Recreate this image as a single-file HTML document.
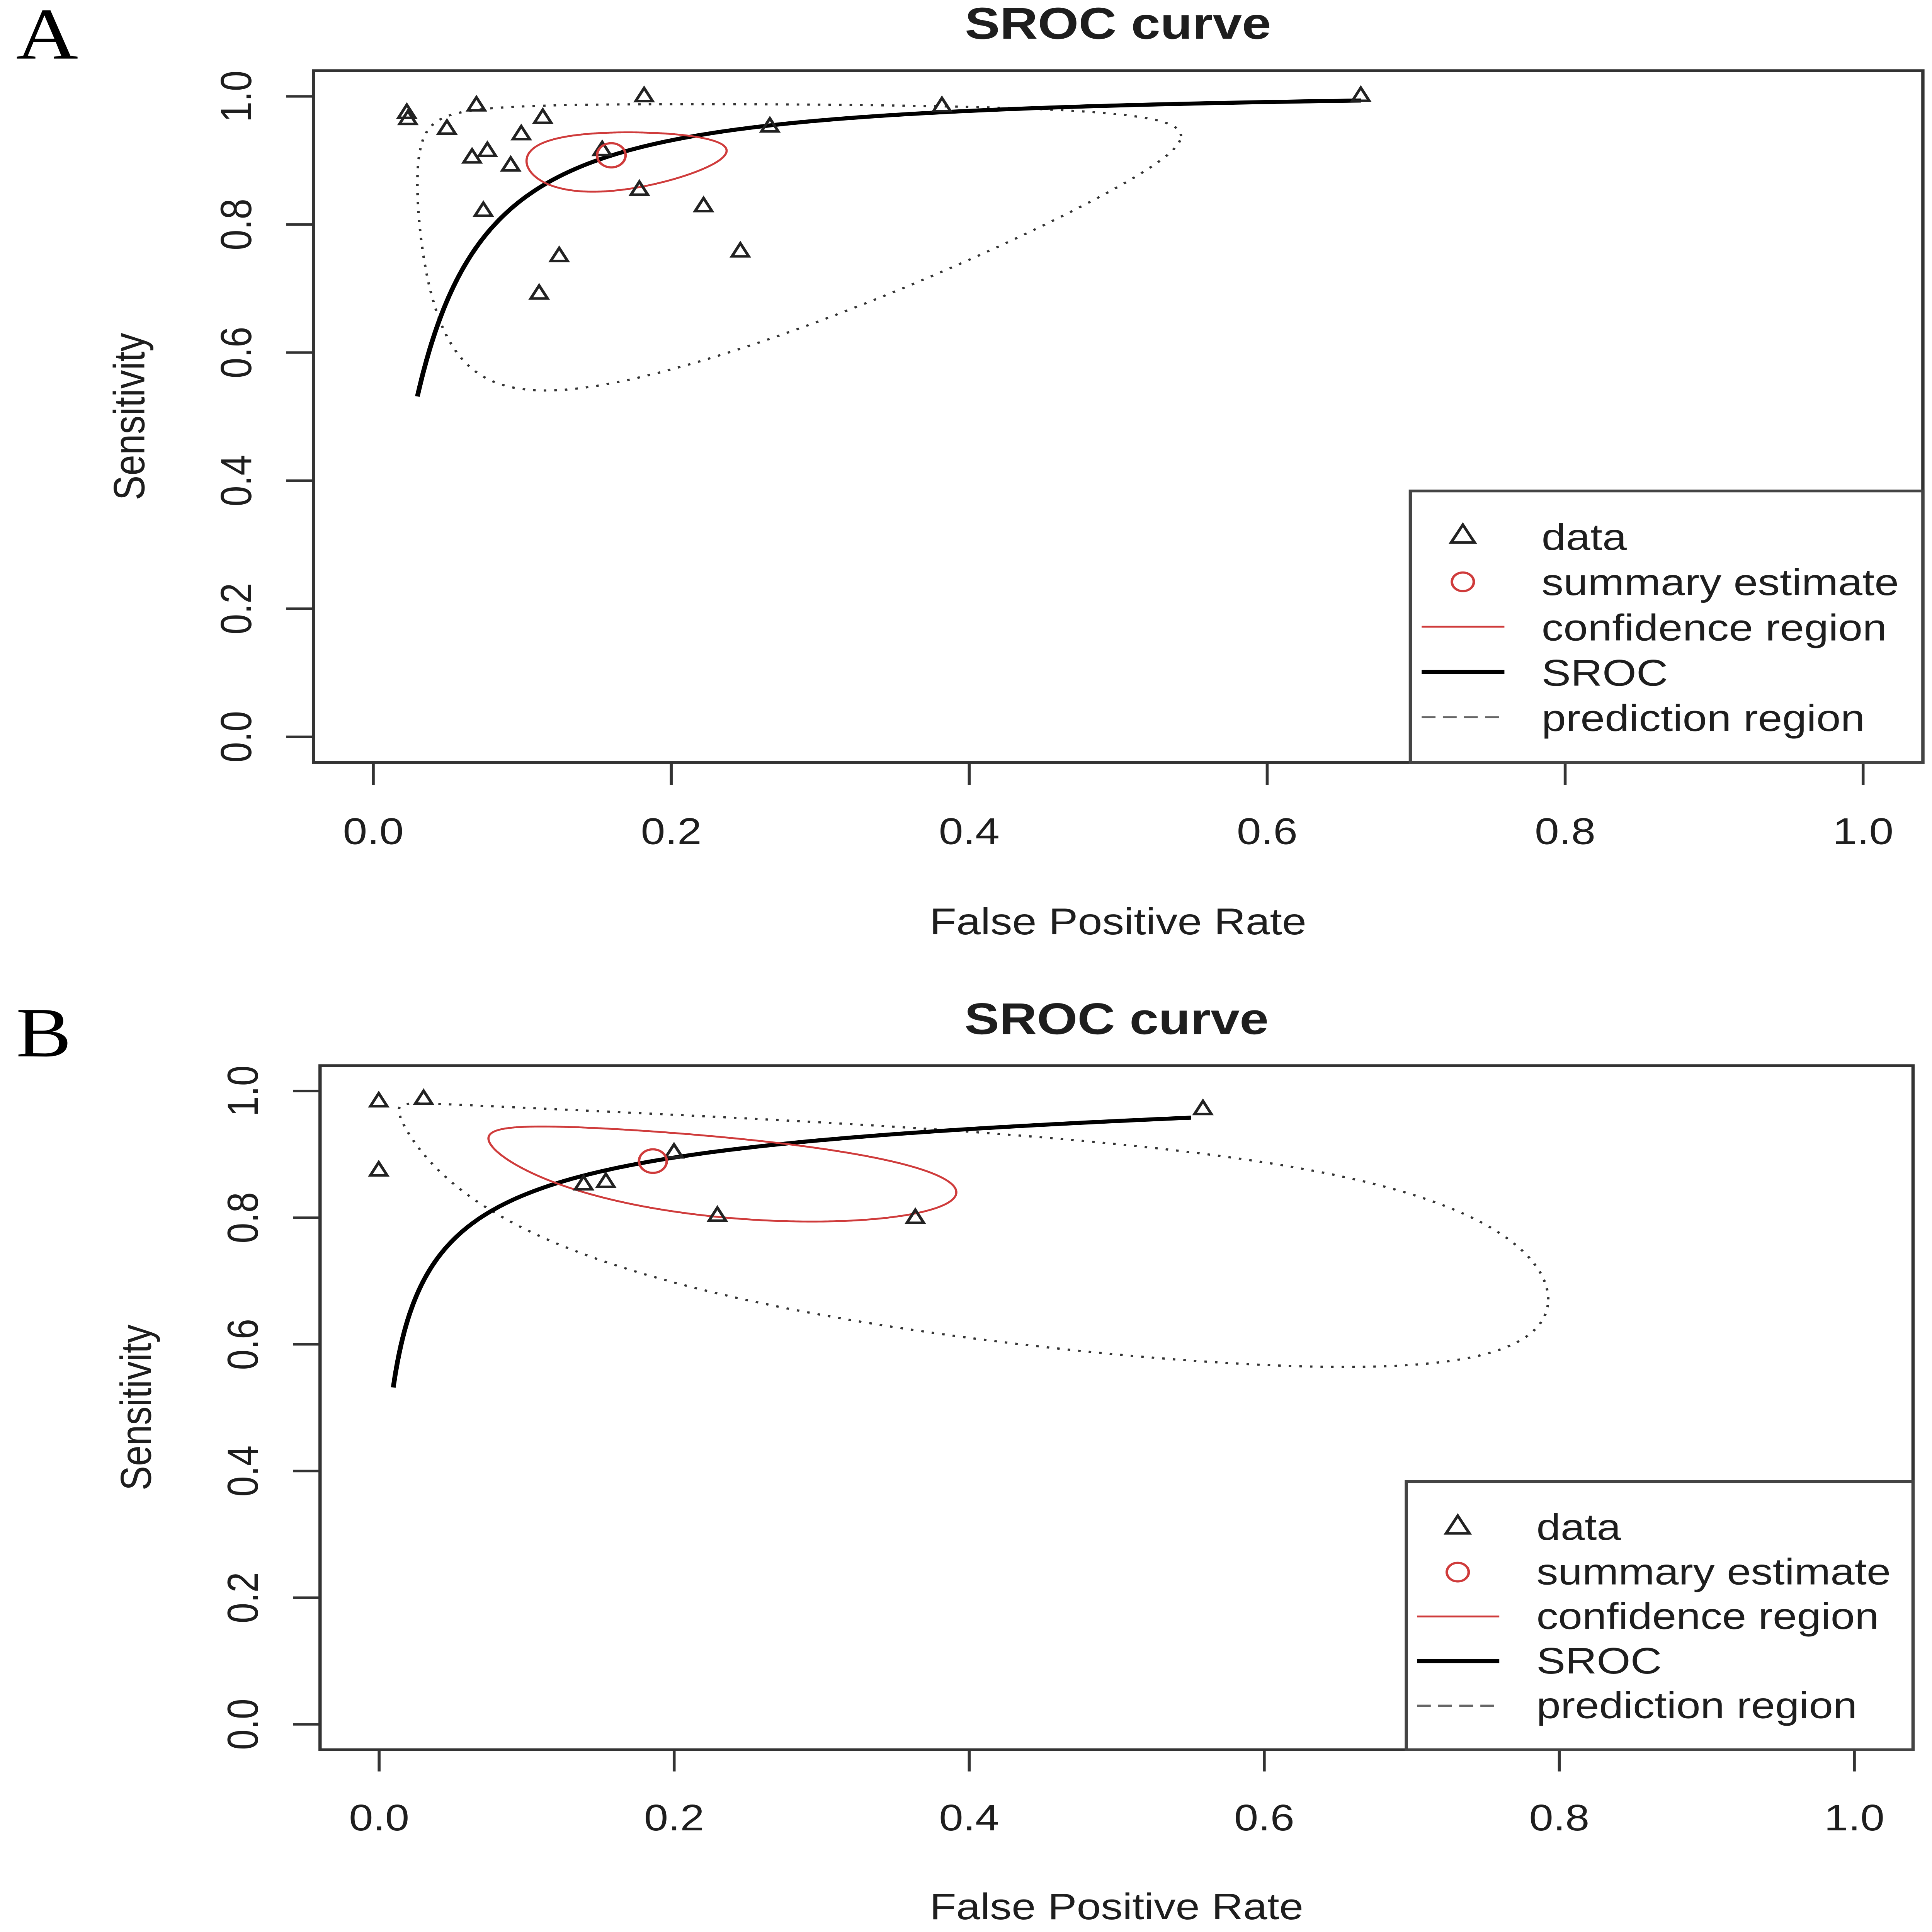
<!DOCTYPE html>
<html>
<head>
<meta charset="utf-8">
<style>
  html,body{margin:0;padding:0;background:#fff;width:100%;height:100%;overflow:hidden;}
  svg{display:block;position:fixed;left:0;top:0;width:100vw;height:100vh;}
  text{font-family:"Liberation Sans",Arial,sans-serif;fill:#1e1e1e;}
  .serif{font-family:"Liberation Serif","Times New Roman",serif;fill:#000;}
</style>
</head>
<body>
<svg xmlns="http://www.w3.org/2000/svg" viewBox="0 0 5300 6233" preserveAspectRatio="none" overflow="hidden">
<defs>
  <path id="tri" d="M0-28L23 14H-23Z" fill="none" stroke="#222" stroke-width="8" stroke-linejoin="miter"/>
  <path id="ltri" d="M0-38L32 19H-32Z" fill="none" stroke="#222" stroke-width="8" stroke-linejoin="miter"/>
</defs>
<rect x="0" y="0" width="5300" height="6233" fill="#fff"/>

<!-- ===================== PANEL A ===================== -->
<text class="serif" x="44" y="189" font-size="236">A</text>
<text x="3067" y="125" font-size="144" font-weight="bold" text-anchor="middle">SROC curve</text>

<path id="aP" d="" fill="none" stroke="#333" stroke-width="7" stroke-dasharray="7 22"/>
<path id="aS" d="" fill="none" stroke="#000" stroke-width="13" stroke-linejoin="round"/>
<path id="aC" d="" fill="none" stroke="#cf3b3b" stroke-width="6"/>

<g>
<use href="#tri" x="1116" y="366"/>
<use href="#tri" x="1119" y="386"/>
<use href="#tri" x="1307" y="342"/>
<use href="#tri" x="1489" y="382"/>
<use href="#tri" x="1226" y="417"/>
<use href="#tri" x="1430" y="435"/>
<use href="#tri" x="1295" y="510"/>
<use href="#tri" x="1337" y="489"/>
<use href="#tri" x="1401" y="536"/>
<use href="#tri" x="1326" y="682"/>
<use href="#tri" x="1534" y="828"/>
<use href="#tri" x="1479" y="949"/>
<use href="#tri" x="1652" y="486"/>
<use href="#tri" x="1767" y="312"/>
<use href="#tri" x="1754" y="614"/>
<use href="#tri" x="1930" y="667"/>
<use href="#tri" x="2031" y="813"/>
<use href="#tri" x="2112" y="410"/>
<use href="#tri" x="2584" y="344"/>
<use href="#tri" x="3733" y="311"/>
</g>
<circle cx="1677" cy="501" r="39" fill="none" stroke="#cf3b3b" stroke-width="7"/>

<rect x="860" y="228" width="4415" height="2232" fill="none" stroke="#333" stroke-width="9"/>
<g stroke="#333" stroke-width="8">
<line x1="1024" y1="2460" x2="1024" y2="2532"/>
<line x1="1841.4" y1="2460" x2="1841.4" y2="2532"/>
<line x1="2658.8" y1="2460" x2="2658.8" y2="2532"/>
<line x1="3476.2" y1="2460" x2="3476.2" y2="2532"/>
<line x1="4293.6" y1="2460" x2="4293.6" y2="2532"/>
<line x1="5111" y1="2460" x2="5111" y2="2532"/>
<line x1="785" y1="2377" x2="860" y2="2377"/>
<line x1="785" y1="1963.8" x2="860" y2="1963.8"/>
<line x1="785" y1="1550.6" x2="860" y2="1550.6"/>
<line x1="785" y1="1137.4" x2="860" y2="1137.4"/>
<line x1="785" y1="724.2" x2="860" y2="724.2"/>
<line x1="785" y1="311" x2="860" y2="311"/>
</g>
<g font-size="120" text-anchor="middle">
<text x="1024" y="2723">0.0</text>
<text x="1841.4" y="2723">0.2</text>
<text x="2658.8" y="2723">0.4</text>
<text x="3476.2" y="2723">0.6</text>
<text x="4293.6" y="2723">0.8</text>
<text x="5111" y="2723">1.0</text>
<text transform="translate(689,2377) rotate(-90)">0.0</text>
<text transform="translate(689,1963.8) rotate(-90)">0.2</text>
<text transform="translate(689,1550.6) rotate(-90)">0.4</text>
<text transform="translate(689,1137.4) rotate(-90)">0.6</text>
<text transform="translate(689,724.2) rotate(-90)">0.8</text>
<text transform="translate(689,311) rotate(-90)">1.0</text>
<text x="3067" y="3014">False Positive Rate</text>
<text transform="translate(396,1344) rotate(-90)">Sensitivity</text>
</g>

<rect x="3869" y="1584" width="1406" height="876" fill="#fff" stroke="#444" stroke-width="9"/>
<use href="#ltri" x="4013" y="1731"/>
<circle cx="4013" cy="1877" r="30" fill="none" stroke="#cf3b3b" stroke-width="7"/>
<line x1="3900" y1="2022" x2="4127" y2="2022" stroke="#cf3b3b" stroke-width="6"/>
<line x1="3900" y1="2168" x2="4127" y2="2168" stroke="#000" stroke-width="13"/>
<line x1="3900" y1="2314" x2="4122" y2="2314" stroke="#666" stroke-width="7" stroke-dasharray="38 20"/>
<g font-size="120">
<text x="4229" y="1774">data</text>
<text x="4229" y="1920">summary estimate</text>
<text x="4229" y="2066">confidence region</text>
<text x="4229" y="2212">SROC</text>
<text x="4229" y="2358">prediction region</text>
</g>

<!-- ===================== PANEL B ===================== -->
<text class="serif" x="44" y="3408" font-size="228">B</text>
<text x="3063" y="3336" font-size="143" font-weight="bold" text-anchor="middle">SROC curve</text>

<path id="bP" d="" fill="none" stroke="#333" stroke-width="7" stroke-dasharray="7 22"/>
<path id="bS" d="" fill="none" stroke="#000" stroke-width="13" stroke-linejoin="round"/>
<path id="bC" d="" fill="none" stroke="#cf3b3b" stroke-width="6"/>

<g>
<use href="#tri" x="1039" y="3555"/>
<use href="#tri" x="1162" y="3547"/>
<use href="#tri" x="1039" y="3778"/>
<use href="#tri" x="1601" y="3823"/>
<use href="#tri" x="1662" y="3815"/>
<use href="#tri" x="1849" y="3720"/>
<use href="#tri" x="1968" y="3924"/>
<use href="#tri" x="2511" y="3931"/>
<use href="#tri" x="3300" y="3580"/>
</g>
<circle cx="1791" cy="3746" r="38" fill="none" stroke="#cf3b3b" stroke-width="7"/>

<rect x="878" y="3438" width="4370" height="2207" fill="none" stroke="#333" stroke-width="9"/>
<g stroke="#333" stroke-width="8">
<line x1="1040" y1="5645" x2="1040" y2="5715"/>
<line x1="1849.4" y1="5645" x2="1849.4" y2="5715"/>
<line x1="2658.8" y1="5645" x2="2658.8" y2="5715"/>
<line x1="3468.2" y1="5645" x2="3468.2" y2="5715"/>
<line x1="4277.6" y1="5645" x2="4277.6" y2="5715"/>
<line x1="5087" y1="5645" x2="5087" y2="5715"/>
<line x1="804" y1="5563" x2="878" y2="5563"/>
<line x1="804" y1="5154.4" x2="878" y2="5154.4"/>
<line x1="804" y1="4745.8" x2="878" y2="4745.8"/>
<line x1="804" y1="4337.2" x2="878" y2="4337.2"/>
<line x1="804" y1="3928.6" x2="878" y2="3928.6"/>
<line x1="804" y1="3520" x2="878" y2="3520"/>
</g>
<g font-size="119" text-anchor="middle">
<text x="1040" y="5905">0.0</text>
<text x="1849.4" y="5905">0.2</text>
<text x="2658.8" y="5905">0.4</text>
<text x="3468.2" y="5905">0.6</text>
<text x="4277.6" y="5905">0.8</text>
<text x="5087" y="5905">1.0</text>
<text transform="translate(707,5563) rotate(-90)">0.0</text>
<text transform="translate(707,5154.4) rotate(-90)">0.2</text>
<text transform="translate(707,4745.8) rotate(-90)">0.4</text>
<text transform="translate(707,4337.2) rotate(-90)">0.6</text>
<text transform="translate(707,3928.6) rotate(-90)">0.8</text>
<text transform="translate(707,3520) rotate(-90)">1.0</text>
<text x="3063" y="6192">False Positive Rate</text>
<text transform="translate(414,4541) rotate(-90)">Sensitivity</text>
</g>

<rect x="3858" y="4780" width="1390" height="865" fill="#fff" stroke="#444" stroke-width="9"/>
<use href="#ltri" x="3999" y="4928"/>
<circle cx="3999" cy="5072" r="30" fill="none" stroke="#cf3b3b" stroke-width="7"/>
<line x1="3887" y1="5215" x2="4113" y2="5215" stroke="#cf3b3b" stroke-width="6"/>
<line x1="3887" y1="5359" x2="4113" y2="5359" stroke="#000" stroke-width="13"/>
<line x1="3887" y1="5503" x2="4109" y2="5503" stroke="#666" stroke-width="7" stroke-dasharray="38 20"/>
<g font-size="119">
<text x="4215" y="4968">data</text>
<text x="4215" y="5112">summary estimate</text>
<text x="4215" y="5255">confidence region</text>
<text x="4215" y="5399">SROC</text>
<text x="4215" y="5543">prediction region</text>
</g>
</svg>

<script>
(function(){
  function lg(p){return Math.log(p/(1-p));}
  function il(x){return 1/(1+Math.exp(-x));}
  var PA={X:function(f){return 1024+4087*f;},Y:function(s){return 2377-2066*s;}};
  var PB={X:function(f){return 1040+4047*f;},Y:function(s){return 5563-2043*s;}};
  function ell(P,cx,cy,sx,sy,r){
    var d='',q=Math.sqrt(1-r*r),n=720;
    for(var i=0;i<=n;i++){
      var t=i/n*2*Math.PI;
      var lx=cx+sx*Math.cos(t);
      var ly=cy+sy*(r*Math.cos(t)+q*Math.sin(t));
      d+=(i?'L':'M')+P.X(il(lx)).toFixed(1)+' '+P.Y(il(ly)).toFixed(1);
    }
    return d+'Z';
  }
  function sr(P,a,b,m,f0,f1){
    var d='',l0=lg(f0),l1=lg(f1),n=300;
    for(var i=0;i<=n;i++){
      var lf=l0+(l1-l0)*i/n;
      var ly=a+b*(lf-m);
      d+=(i?'L':'M')+P.X(il(lf)).toFixed(1)+' '+P.Y(il(ly)).toFixed(1);
    }
    return d;
  }
  function set(id,d){var e=document.getElementById(id); if(e) e.setAttribute('d',d);}
  set('aS', sr(PA,2.2835,1.18,-1.6615,0.0296,0.663));
  set('aP', ell(PA,-1.66,2.2835,1.829,2.12,0.205));
  set('aC', ell(PA,-1.667,2.283,0.4987,0.539,0.177));
  set('bS', sr(PB,2.085,0.62,-1.48,0.0096,0.5503));
  set('bP', ell(PB,-1.48,2.087,2.82,1.828,-0.7516));
  set('bC', ell(PB,-1.4835,2.087,1.0415,0.738,-0.58));
})();
</script>
</body>
</html>
